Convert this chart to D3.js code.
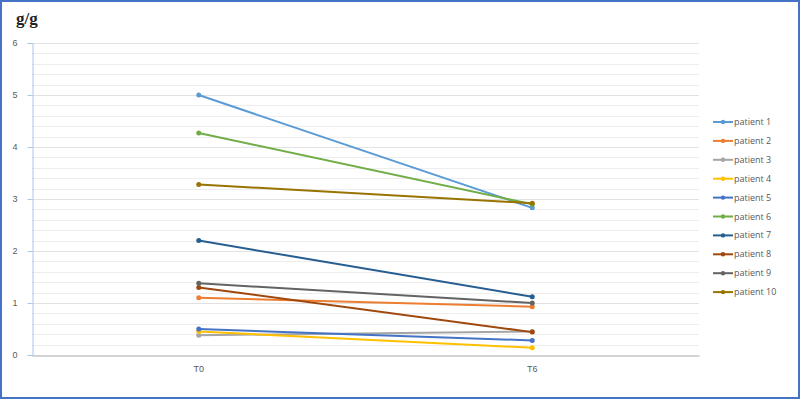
<!DOCTYPE html>
<html lang="en">
<head>
<meta charset="utf-8">
<title>g/g per patient</title>
<script src="https://d3js.org/d3.v7.min.js"></script>
<style>
  html, body { margin: 0; padding: 0; background: #fff; }
  svg { display: block; font-family: "Open Sans", Arial, sans-serif; }
</style>
</head>
<body>
<div id="chart"></div>
<script>
var width = 800, height = 399;

// data
var times = ["T0", "T6"];
var patients = ["patient 1", "patient 2", "patient 3", "patient 4", "patient 5",
                "patient 6", "patient 7", "patient 8", "patient 9", "patient 10"];
var t0Values = [5.0, 1.1, 0.38, 0.45, 0.5, 4.27, 2.2, 1.3, 1.38, 3.28];
var t6Values = [2.83, 0.93, 0.45, 0.14, 0.28, 2.9, 1.12, 0.44, 1.0, 2.92];
var yTicks = [0, 1, 2, 3, 4, 5, 6];
var colors = ["#5B9BD5", "#ED7D31", "#A5A5A5", "#FFC000", "#4472C4",
              "#70AD47", "#255E91", "#9E480E", "#636363", "#997300"];

var series = patients.map(function(p, i) {
  return { name: p, color: colors[i], values: [t0Values[i], t6Values[i]] };
});

var svg = d3.select("#chart").append("svg")
  .attr("width", width)
  .attr("height", height);

// outer frame
svg.append("rect")
  .attr("x", 1).attr("y", 1)
  .attr("width", width - 2).attr("height", height - 2)
  .attr("fill", "none")
  .attr("stroke", "#4472C4")
  .attr("stroke-width", 2);

var x = d3.scaleBand().domain(times).range([32, 699]);
var y = d3.scaleLinear().domain([0, 6]).range([355, 43]);

// minor gridlines every 0.2
var minor = d3.range(0, 6.01, 0.2);
svg.append("g").selectAll("line")
  .data(minor)
  .enter().append("line")
  .attr("x1", 32).attr("x2", 699)
  .attr("y1", function(d) { return Math.round(y(d)) + 0.5; })
  .attr("y2", function(d) { return Math.round(y(d)) + 0.5; })
  .attr("stroke", "#ededed")
  .attr("stroke-width", 1);

// major gridlines
svg.append("g").selectAll("line")
  .data(yTicks.slice(1))
  .enter().append("line")
  .attr("x1", 32).attr("x2", 699)
  .attr("y1", function(d) { return Math.round(y(d)) + 0.5; })
  .attr("y2", function(d) { return Math.round(y(d)) + 0.5; })
  .attr("stroke", "#e2e2e2")
  .attr("stroke-width", 1);

// y axis
var yAxis = svg.append("g")
  .attr("transform", "translate(32.5,0)")
  .call(d3.axisLeft(y).tickValues(yTicks).tickFormat(d3.format("d"))
    .tickSize(5).tickPadding(10));
yAxis.select(".domain").attr("stroke", "#a9c8e8");
yAxis.selectAll(".tick line").attr("stroke", "#a9c8e8");
yAxis.selectAll(".tick text")
  .attr("fill", "#595959")
  .attr("font-size", "9px");

// x axis
var xAxis = svg.append("g")
  .attr("transform", "translate(0,355.5)")
  .call(d3.axisBottom(x).tickSize(0).tickPadding(10));
xAxis.select(".domain").attr("stroke", "#c8c8c8").attr("stroke-width", 1.5);
xAxis.selectAll(".tick text")
  .attr("fill", "#595959")
  .attr("font-size", "9px");

// lines
var line = d3.line()
  .x(function(d, i) { return x(times[i]) + x.bandwidth() / 2; })
  .y(function(d) { return y(d); });

var lines = svg.append("g");
series.forEach(function(s) {
  lines.append("path")
    .datum(s.values)
    .attr("d", line)
    .attr("fill", "none")
    .attr("stroke", s.color)
    .attr("stroke-width", 2);
  lines.selectAll(null)
    .data(s.values)
    .enter().append("circle")
    .attr("cx", function(d, i) { return x(times[i]) + x.bandwidth() / 2; })
    .attr("cy", function(d) { return y(d); })
    .attr("r", 2.5)
    .attr("fill", s.color);
});

// legend
var legend = svg.append("g").attr("transform", "translate(713,122)");
var rows = legend.selectAll("g")
  .data(series)
  .enter().append("g")
  .attr("transform", function(d, i) { return "translate(0," + (i * 18.9) + ")"; });
rows.append("line")
  .attr("x1", 0).attr("x2", 20)
  .attr("stroke", function(d) { return d.color; })
  .attr("stroke-width", 2);
rows.append("circle")
  .attr("cx", 10).attr("r", 2.2)
  .attr("fill", function(d) { return d.color; });
rows.append("text")
  .attr("x", 21)
  .attr("y", 3)
  .attr("font-size", "9px")
  .attr("fill", "#595959")
  .text(function(d) { return d.name; });

// unit title
svg.append("text")
  .attr("x", 16)
  .attr("y", 24)
  .attr("font-family", "'Liberation Serif', serif")
  .attr("font-weight", "bold")
  .attr("font-size", "17px")
  .attr("fill", "#222")
  .text("g/g");
</script>
</body>
</html>
